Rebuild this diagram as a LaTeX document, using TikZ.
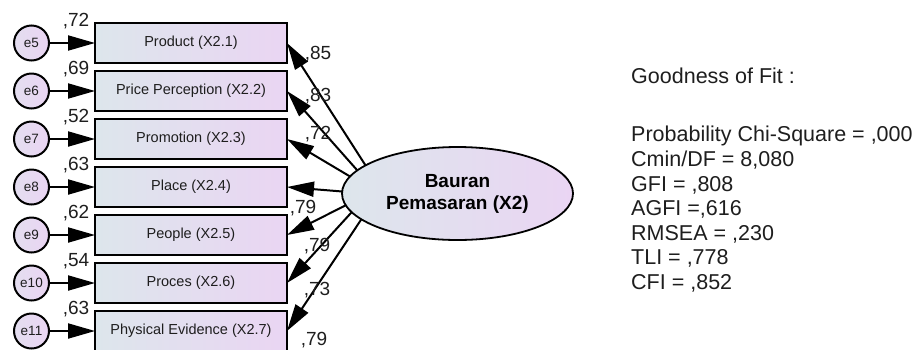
\documentclass[tikz,border=0pt]{standalone}
\usepackage{fontspec}
\setmainfont{Liberation Sans}
\usetikzlibrary{arrows.meta,shapes.geometric}
\definecolor{fillL}{HTML}{DDE6EC}
\definecolor{fillR}{HTML}{EAD5F3}
\definecolor{ink}{HTML}{1E1E1E}
\tikzset{
  obs/.style={rectangle, draw=black, line width=2pt, left color=fillL, right color=fillR,
    minimum width=192pt, minimum height=40pt, inner sep=0pt, outer sep=0pt,
    font=\fontsize{14.5}{17}\selectfont, text=ink},
  resid/.style={circle, draw=black, line width=2pt, left color=fillL!50!fillR, right color=fillR,
    minimum size=35pt, inner sep=0pt, outer sep=0pt, font=\fontsize{13.5}{16}\selectfont, text=ink},
  lat/.style={ellipse, draw=black, line width=1.8pt, left color=fillL, right color=fillR,
    minimum width=231pt, minimum height=93pt, inner sep=0pt, outer sep=0pt, align=center,
    font=\bfseries\fontsize{19}{22}\selectfont, text=black},
  load/.style={line width=2pt, -{Triangle[length=27pt,width=15pt]}},
  wt/.style={font=\fontsize{19}{22}\selectfont, text=ink, inner sep=0pt},
  gof/.style={font=\fontsize{21.5}{24}\selectfont, text=ink, anchor=base west, inner sep=0pt}
}
\begin{document}
\begin{tikzpicture}[x=1pt,y=-1pt]
\useasboundingbox (0,0) rectangle (917,349);

% indicators
\node[obs] (b1) at (191,43)  {Product (X2.1)};
\node[obs] (b2) at (191,91)  {Price Perception (X2.2)};
\node[obs] (b3) at (191,139) {Promotion (X2.3)};
\node[obs] (b4) at (191,187) {Place (X2.4)};
\node[obs] (b5) at (191,235) {People (X2.5)};
\node[obs] (b6) at (191,283) {Proces (X2.6)};
\node[obs] (b7) at (191,331) {Physical Evidence (X2.7)};

% error terms
\node[resid] (e5)  at (31.5,43)  {e5};
\node[resid] (e6)  at (31.5,91)  {e6};
\node[resid] (e7)  at (31.5,139) {e7};
\node[resid] (e8)  at (31.5,187) {e8};
\node[resid] (e9)  at (31.5,235) {e9};
\node[resid] (e10) at (31.5,283) {e10};
\node[resid] (e11) at (31.5,331) {e11};

\draw[load] (e5)  -- (b1);
\draw[load] (e6)  -- (b2);
\draw[load] (e7)  -- (b3);
\draw[load] (e8)  -- (b4);
\draw[load] (e9)  -- (b5);
\draw[load] (e10) -- (b6);
\draw[load] (e11) -- (b7);

% squared multiple correlations
\node[wt] (r1) at (76,21)  {,72};
\node[wt] (r2) at (76,69)  {,69};
\node[wt] (r3) at (76,117) {,52};
\node[wt] (r4) at (76,165) {,63};
\node[wt] (r5) at (76,213) {,62};
\node[wt] (r6) at (76,261) {,54};
\node[wt] (r7) at (76,309) {,63};

% latent construct
\node[lat] (x2) at (457.5,193.5) {Bauran\\Pemasaran (X2)};

\draw[load] (x2.163)   -- (b1.east);
\draw[load] (x2.167)   -- (b2.east);
\draw[load] (x2.171.5) -- (b3.east);
\draw[load] (x2.179.5) -- (b4.east);
\draw[load] (x2.186)   -- (b5.east);
\draw[load] (x2.190)   -- (b6.east);
\draw[load] (x2.195)   -- (b7.east);

% standardized loadings
\node[wt] (l1) at (318,54)  {,85};
\node[wt] (l2) at (318,96)  {,83};
\node[wt] (l3) at (318,134) {,72};
\node[wt] (l4) at (303,208) {,79};
\node[wt] (l5) at (317,246) {,79};
\node[wt] (l6) at (317,290) {,73};
\node[wt] (l7) at (314,340) {,79};

% fit indices
\node[gof] (g0) at (631,83)  {Goodness of Fit :};
\node[gof] (g1) at (631,141) {Probability Chi-Square = ,000};
\node[gof] (g2) at (631,166) {Cmin/DF = 8,080};
\node[gof] (g3) at (631,191) {GFI = ,808};
\node[gof] (g4) at (631,215) {AGFI =,616};
\node[gof] (g5) at (631,240) {RMSEA = ,230};
\node[gof] (g6) at (631,264) {TLI = ,778};
\node[gof] (g7) at (631,289) {CFI = ,852};
\end{tikzpicture}
\end{document}
